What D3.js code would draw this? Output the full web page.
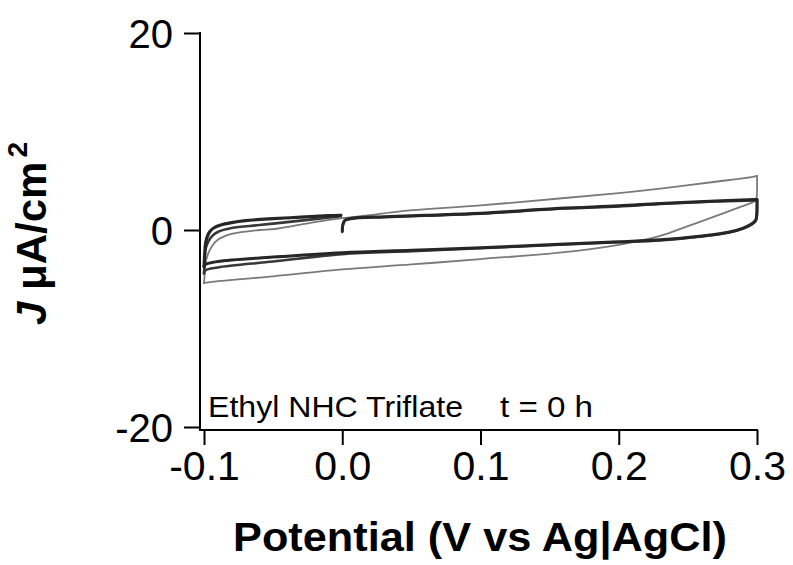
<!DOCTYPE html>
<html>
<head>
<meta charset="utf-8">
<script src="https://cdn.jsdelivr.net/npm/d3@7"></script>
<style>
  html, body { margin: 0; padding: 0; background: #fff; }
  svg { display: block; }
  text { font-family: "Liberation Sans", Arial, sans-serif; }
</style>
</head>
<body>
<svg id="chart" width="793" height="565"></svg>
<script>
// ---- data ----
const xTicks = [-0.1, 0.0, 0.1, 0.2, 0.3];
const xTickLabels = ["-0.1", "0.0", "0.1", "0.2", "0.3"];
const yTicks = [-20, 0, 20];
const yTickLabels = ["-20", "0", "20"];

// Dark cycle A: forward scan (two segments, break at 0.0 V) and reverse scan
const darkA_fwd1_E = [-0.1, -0.0995, -0.099, -0.098, -0.096, -0.093, -0.088, -0.08, -0.07, -0.05, -0.03, -0.01, -0.001];
const darkA_fwd1_J = [-3.7, -2.5, -1.5, -0.8, -0.2, 0.2, 0.5, 0.75, 0.95, 1.15, 1.3, 1.45, 1.5];
const darkA_fwd2_E = [0.0, 0.0005, 0.002, 0.005, 0.01, 0.03, 0.06, 0.1, 0.157, 0.2, 0.23, 0.27, 0.298, 0.3];
const darkA_fwd2_J = [-0.1, 0.6, 1.0, 1.15, 1.25, 1.35, 1.5, 1.7, 2.2, 2.45, 2.7, 2.95, 3.1, 3.1];
const darkA_rev_E = [0.3, 0.2998, 0.299, 0.296, 0.29, 0.28, 0.26, 0.23, 0.2, 0.157, 0.1, 0.05, 0.0, -0.05, -0.09, -0.099, -0.1];
const darkA_rev_J = [3.1, 1.5, 1.0, 0.6, 0.2, -0.2, -0.6, -1.0, -1.2, -1.45, -1.8, -2.05, -2.3, -2.75, -3.2, -3.5, -3.7];

// Dark cycle B
const darkB_fwd1_E = [-0.1, -0.0995, -0.099, -0.097, -0.094, -0.09, -0.08, -0.06, -0.04, -0.02, -0.001];
const darkB_fwd1_J = [-4.4, -3.0, -2.0, -1.2, -0.6, -0.2, 0.2, 0.5, 0.8, 1.1, 1.4];
const darkB_fwd2_E = [0.0, 0.0005, 0.002, 0.005, 0.01, 0.03, 0.06, 0.1, 0.157, 0.2, 0.23, 0.27, 0.298, 0.3];
const darkB_fwd2_J = [-0.2, 0.5, 0.95, 1.1, 1.2, 1.3, 1.45, 1.65, 2.15, 2.4, 2.65, 2.9, 3.0, 3.0];
const darkB_rev_E = [0.3, 0.2998, 0.299, 0.296, 0.29, 0.28, 0.26, 0.23, 0.2, 0.157, 0.1, 0.05, 0.0, -0.05, -0.09, -0.099, -0.1];
const darkB_rev_J = [3.0, 1.4, 0.9, 0.55, 0.15, -0.25, -0.65, -1.05, -1.25, -1.5, -1.85, -2.15, -2.45, -3.2, -3.8, -4.1, -4.4];

// Gray cycle
const gray_fwd_E = [-0.1, -0.0995, -0.099, -0.097, -0.094, -0.09, -0.08, -0.06, -0.049, -0.02, 0.0, 0.02, 0.042, 0.1, 0.157, 0.2, 0.23, 0.27, 0.297, 0.3];
const gray_fwd_J = [-5.4, -4.5, -3.5, -2.4, -1.6, -1.0, -0.4, 0.0, 0.1, 0.8, 1.2, 1.5, 1.9, 2.5, 3.2, 3.75, 4.2, 4.9, 5.4, 5.5];
const gray_rev_E = [0.3, 0.2998, 0.299, 0.295, 0.289, 0.27, 0.25, 0.23, 0.2, 0.157, 0.1, 0.05, 0.0, -0.05, -0.09, -0.099, -0.1];
const gray_rev_J = [5.5, 3.4, 3.0, 2.7, 2.4, 1.4, 0.4, -0.6, -1.5, -2.3, -2.95, -3.5, -4.0, -4.7, -5.2, -5.35, -5.4];

const annotationSample = "Ethyl NHC Triflate";
const annotationTime = "t = 0 h";

// ---- chart ----
const svg = d3.select("#chart");
const x = d3.scaleLinear().domain([-0.1, 0.3]).range([204, 757]);
const y = d3.scaleLinear().domain([-20, 20]).range([427, 33]);
const axisX = 200;  // y-axis position
const axisY = 430;  // x-axis position

const zip = (E, J) => E.map((e, i) => [e, J[i]]);
const lineGen = d3.line().x(d => x(d[0])).y(d => y(d[1])).curve(d3.curveCatmullRom.alpha(0.5));

const traces = [
  { E: gray_rev_E, J: gray_rev_J, color: "#7a7a7a", w: 1.8 },
  { E: gray_fwd_E, J: gray_fwd_J, color: "#7a7a7a", w: 1.8 },
  { E: darkB_rev_E, J: darkB_rev_J, color: "#383838", w: 2.6 },
  { E: darkB_fwd1_E, J: darkB_fwd1_J, color: "#383838", w: 2.6 },
  { E: darkB_fwd2_E, J: darkB_fwd2_J, color: "#383838", w: 2.6 },
  { E: darkA_rev_E, J: darkA_rev_J, color: "#262626", w: 3 },
  { E: darkA_fwd1_E, J: darkA_fwd1_J, color: "#262626", w: 3.2 },
  { E: darkA_fwd2_E, J: darkA_fwd2_J, color: "#262626", w: 3 },
];

svg.append("g").selectAll("path").data(traces).join("path")
  .attr("d", d => lineGen(zip(d.E, d.J)))
  .attr("fill", "none")
  .attr("stroke", d => d.color)
  .attr("stroke-width", d => d.w)
  .attr("stroke-linejoin", "round")
  .attr("stroke-linecap", "round");

// Y axis
const gy = svg.append("g").attr("transform", `translate(${axisX},0)`)
  .call(d3.axisLeft(y).tickValues(yTicks).tickFormat((d, i) => yTickLabels[i]).tickSize(16).tickPadding(11));
gy.select(".domain").remove();
gy.selectAll(".tick line").attr("stroke", "#000").attr("stroke-width", 2);
gy.selectAll(".tick text").attr("font-size", 40).attr("fill", "#000")
  .attr("font-family", "'Liberation Sans', Arial, sans-serif").attr("dy", "0.36em");
svg.append("line").attr("x1", axisX).attr("x2", axisX).attr("y1", y(20) - 1).attr("y2", axisY + 1)
  .attr("stroke", "#000").attr("stroke-width", 2);

// X axis
const gx = svg.append("g").attr("transform", `translate(0,${axisY})`)
  .call(d3.axisBottom(x).tickValues(xTicks).tickFormat((d, i) => xTickLabels[i]).tickSize(15).tickPadding(6));
gx.select(".domain").remove();
gx.selectAll(".tick line").attr("stroke", "#000").attr("stroke-width", 2);
gx.selectAll(".tick text").attr("font-size", 41).attr("fill", "#000")
  .attr("font-family", "'Liberation Sans', Arial, sans-serif");
svg.append("line").attr("x1", axisX - 1).attr("x2", x(0.3) + 1).attr("y1", axisY).attr("y2", axisY)
  .attr("stroke", "#000").attr("stroke-width", 2);

// Axis titles
svg.append("text")
  .attr("x", 233).attr("y", 551)
  .attr("font-size", 40).attr("font-weight", "bold")
  .attr("textLength", 494).attr("lengthAdjust", "spacingAndGlyphs")
  .text("Potential (V vs Ag|AgCl)");

const yt = svg.append("text")
  .attr("transform", "translate(46,325) rotate(-90)")
  .attr("text-anchor", "start")
  .attr("font-size", 42).attr("font-weight", "bold");
yt.append("tspan").attr("font-style", "italic").text("J");
yt.append("tspan").text(" μA/cm");
yt.append("tspan").attr("dy", -19).attr("dx", 4).attr("font-size", 28).text("2");

// Annotation
svg.append("text")
  .attr("x", 208).attr("y", 417)
  .attr("font-size", 30)
  .attr("textLength", 255).attr("lengthAdjust", "spacingAndGlyphs")
  .text(annotationSample);
svg.append("text")
  .attr("x", 500).attr("y", 417)
  .attr("font-size", 30)
  .attr("textLength", 93).attr("lengthAdjust", "spacingAndGlyphs")
  .text(annotationTime);
</script>
</body>
</html>
